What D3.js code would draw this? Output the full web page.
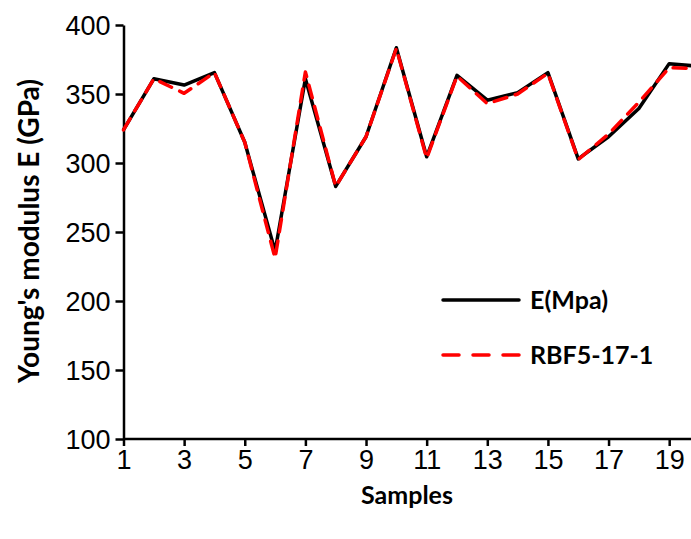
<!DOCTYPE html>
<html lang="en">
<head>
<meta charset="utf-8">
<style>
  body { margin: 0; background: white; }
  svg { font-family: 'Lato', 'Open Sans', sans-serif; display: block; overflow: hidden; }
  .axis path, .axis line { stroke: black; stroke-width: 2.5px; }
  .axis text { font-size: 27px; fill: black; }
  .xtitle { font-size: 25px; font-weight: bold; }
  .ytitle { font-size: 28px; font-weight: bold; }
  .legend text { font-size: 25px; font-weight: bold; }
</style>
</head>
<body>
<svg width="691" height="539"></svg>
<script src="https://d3js.org/d3.v7.min.js"></script>
<script>
// values
const samples = d3.range(1, 21);
const measured = [324, 361, 356.5, 365.5, 315, 236, 361, 283, 319, 383.5,
                  304.5, 363.5, 345.5, 351, 365.5, 303, 319, 339.5, 372, 370];
const rbf = [324, 361, 350.5, 365.5, 315, 231, 366, 283, 319, 383,
             303.5, 363, 343, 350, 365, 302.5, 321, 344, 369, 368.5];
const yTicks = [100, 150, 200, 250, 300, 350, 400];
const xTicks = [1, 3, 5, 7, 9, 11, 13, 15, 17, 19];

const svg = d3.select("svg");

const x = d3.scaleLinear().domain([1, 20]).range([123.5, 699.5]);
const y = d3.scaleLinear().domain([100, 400]).range([439, 25]);

// axes
const xAxis = svg.append("g")
  .attr("class", "axis")
  .attr("transform", "translate(0,439)")
  .call(d3.axisBottom(x).tickValues(xTicks).tickSize(7).tickPadding(3).tickSizeOuter(0))
  .call(g => g.select(".domain").attr("d", "M" + x(1) + ",0H" + x(20)));
xAxis.selectAll("text").attr("dy", "0.74em");

const yAxis = svg.append("g")
  .attr("class", "axis")
  .attr("transform", "translate(" + x(1) + ",0)")
  .call(d3.axisLeft(y).tickValues(yTicks).tickSize(8).tickPadding(5).tickSizeOuter(0));
yAxis.selectAll("text").attr("dy", "0.36em");

// lines
const line = d3.line().x((d, i) => x(samples[i])).y(d => y(d));

svg.append("path")
  .datum(measured)
  .attr("d", line)
  .attr("fill", "none")
  .attr("stroke", "black")
  .attr("stroke-width", 3.5)
  .attr("stroke-linejoin", "round");

svg.append("path")
  .datum(rbf)
  .attr("d", line)
  .attr("fill", "none")
  .attr("stroke", "#ff0000")
  .attr("stroke-width", 3.5)
  .attr("stroke-linejoin", "round")
  .attr("stroke-linecap", "round")
  .attr("stroke-dasharray", "13,9");

// axis titles
svg.append("text")
  .attr("class", "xtitle")
  .attr("x", 407)
  .attr("y", 504)
  .attr("text-anchor", "middle")
  .text("Samples");

svg.append("text")
  .attr("class", "ytitle")
  .attr("transform", "translate(39,231) rotate(-90)")
  .attr("text-anchor", "middle")
  .text("Young's modulus E (GPa)");

// legend
const legend = svg.append("g").attr("class", "legend");
const legendItems = [
  { label: "E(Mpa)", color: "black", dash: null, yPos: 300 },
  { label: "RBF5-17-1", color: "#ff0000", dash: "16,14", yPos: 355 }
];
legendItems.forEach(d => {
  legend.append("line")
    .attr("x1", 443).attr("x2", 519)
    .attr("y1", d.yPos).attr("y2", d.yPos)
    .attr("stroke", d.color)
    .attr("stroke-width", 3.5)
    .attr("stroke-linecap", "round")
    .attr("stroke-dasharray", d.dash);
  legend.append("text")
    .attr("x", 530)
    .attr("y", d.yPos + 9)
    .text(d.label);
});
</script>
</body>
</html>
